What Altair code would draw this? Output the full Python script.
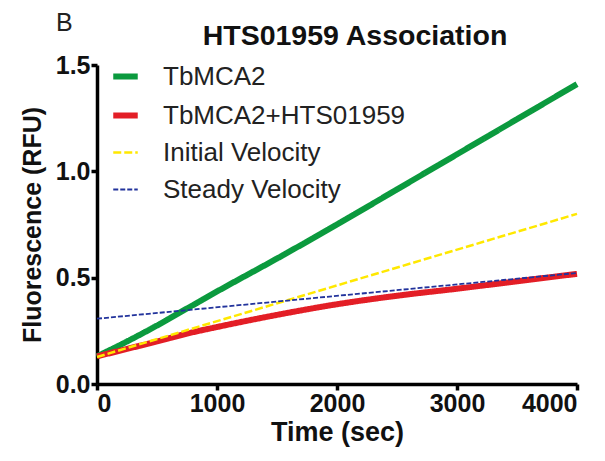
import altair as alt
import pandas as pd

series_names = ["TbMCA2", "TbMCA2+HTS01959", "Initial Velocity", "Steady Velocity"]
series_colors = ["#0b9a3e", "#e31e26", "#ffe800", "#22339c"]
series_dash = [[1, 0], [1, 0], [8, 3], [5, 2]]
series_width = [6, 6, 2.5, 1.8]

time_sec = [0, 250, 500, 750, 1000, 1500, 2000, 2500, 3000, 3500, 4000]
tbmca2 = [0.13, 0.2, 0.275, 0.355, 0.435, 0.59, 0.75, 0.915, 1.08, 1.245, 1.41]
tbmca2_hts = [0.13, 0.165, 0.2, 0.237, 0.268, 0.325, 0.375, 0.415, 0.448, 0.483, 0.518]
initial_time = [0, 4000]
initial_vel = [0.127, 0.8]
steady_time = [0, 4000]
steady_vel = [0.307, 0.522]

chart_title = "HTS01959 Association"
panel_label = "B"

rows = []
for t, v in zip(time_sec, tbmca2):
    rows.append({"t": t, "v": v, "s": series_names[0], "o": 0})
for t, v in zip(time_sec, tbmca2_hts):
    rows.append({"t": t, "v": v, "s": series_names[1], "o": 1})
for t, v in zip(initial_time, initial_vel):
    rows.append({"t": t, "v": v, "s": series_names[2], "o": 2})
for t, v in zip(steady_time, steady_vel):
    rows.append({"t": t, "v": v, "s": series_names[3], "o": 3})
df = pd.DataFrame(rows)

legend = alt.Legend(
    title=None, orient="none", legendX=13, legendY=-4, padding=0,
    labelFontSize=26, labelFont="Liberation Sans", labelColor="#222", labelLimit=400,
    symbolType="stroke", symbolSize=600, rowPadding=10, labelOffset=22,
)

lines = alt.Chart(df).mark_line(interpolate="monotone").encode(
    x=alt.X("t:Q", scale=alt.Scale(domain=[0, 4000]),
            axis=alt.Axis(values=[0, 1000, 2000, 3000, 4000], format="d", title="Time (sec)")),
    y=alt.Y("v:Q", scale=alt.Scale(domain=[0, 1.5]),
            axis=alt.Axis(values=[0, 0.5, 1.0, 1.5], format=".1f", title="Fluorescence (RFU)")),
    color=alt.Color("s:N", scale=alt.Scale(domain=series_names, range=series_colors), legend=legend),
    strokeDash=alt.StrokeDash("s:N", scale=alt.Scale(domain=series_names, range=series_dash), legend=legend),
    strokeWidth=alt.StrokeWidth("s:N", scale=alt.Scale(type="ordinal", domain=series_names, range=series_width), legend=legend),
    order=alt.Order("o:Q"),
    detail="s:N",
)

label_b = alt.Chart(pd.DataFrame({"txt": [panel_label]})).mark_text(
    font="Liberation Sans", fontSize=25, align="left", baseline="alphabetic", color="#222"
).encode(x=alt.value(-41), y=alt.value(-34), text="txt:N")

title_txt = alt.Chart(pd.DataFrame({"txt": [chart_title]})).mark_text(
    font="Liberation Sans", fontSize=28.5, fontWeight="bold", align="center",
    baseline="alphabetic", color="#111"
).encode(x=alt.value(258), y=alt.value(-20), text="txt:N")

chart = alt.layer(lines, label_b, title_txt).properties(
    width=480, height=319,
    autosize=alt.AutoSizeParams(type="none"),
    padding={"left": 89, "top": 57, "right": 20, "bottom": 69},
).configure_view(stroke=None).configure_axis(
    domainColor="black", domainWidth=3.5, tickColor="black", tickWidth=3.5, tickSize=6,
    grid=False, labelFont="Liberation Sans", labelFontWeight="bold", labelFontSize=25,
    labelColor="#111", titleFont="Liberation Sans", titleFontWeight="bold", titleFontSize=25,
    titleColor="#111",
).configure_axisX(labelPadding=1, titlePadding=3, titleFontSize=27).configure_axisY(labelPadding=1, titlePadding=10)

chart.save("out.html", embed_options={"renderer": "svg", "actions": False})
